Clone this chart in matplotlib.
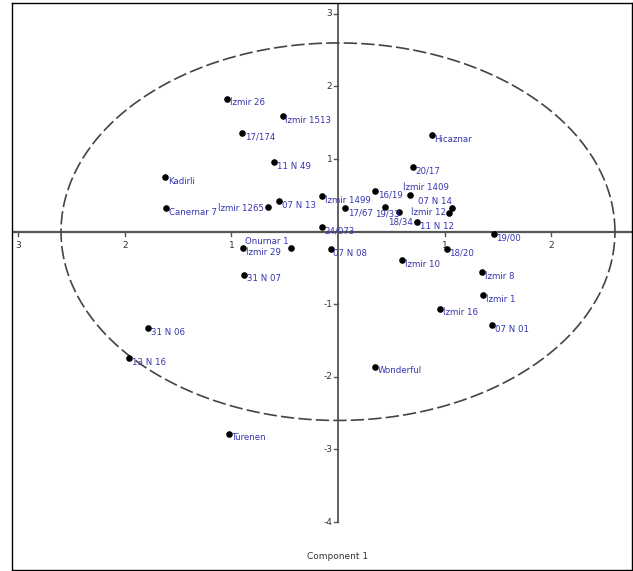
import numpy as np
import matplotlib.pyplot as plt

# component scores for each genotype
names = ["İzmir 26", "İzmir 1513", "17/174", "11 N 49", "Kadirli", "Canernar 7",
         "İzmir 1265", "07 N 13", "İzmir 1499", "17/67", "16/19", "İzmir 1409",
         "20/17", "Hicaznar", "07 N 14", "İzmir 12", "19/33", "18/34", "11 N 12",
         "24/073", "Onurnar 1", "İzmir 29", "31 N 07", "07 N 08", "19/00", "18/20",
         "İzmir 10", "İzmir 8", "İzmir 1", "İzmir 16", "07 N 01", "31 N 06",
         "13 N 16", "Türenen", "Wonderful"]
comp1 = [-1.04, -0.52, -0.90, -0.60, -1.62, -1.61,
         -0.66, -0.55, -0.15, 0.07, 0.35, 0.68,
         0.70, 0.88, 1.07, 1.04, 0.44, 0.57, 0.74,
         -0.15, -0.44, -0.89, -0.88, -0.07, 1.46, 1.02,
         0.60, 1.35, 1.36, 0.96, 1.45, -1.78,
         -1.96, -1.02, 0.35]
comp2 = [1.83, 1.59, 1.36, 0.96, 0.75, 0.32,
         0.34, 0.42, 0.49, 0.32, 0.56, 0.50,
         0.89, 1.33, 0.32, 0.26, 0.34, 0.27, 0.13,
         0.06, -0.23, -0.23, -0.59, -0.24, -0.03, -0.24,
         -0.39, -0.56, -0.87, -1.06, -1.29, -1.33,
         -1.74, -2.78, -1.86]

# label offsets in points (dx, dy, ha) where the default (right of dot) is not used
label_pos = {
    "İzmir 1265": (-3, -1, "right"),
    "Onurnar 1": (-2, 5, "right"),
    "İzmir 1409": (-5, 6, "left"),
    "07 N 14": (0, 5, "right"),
    "İzmir 12": (-2, 0, "right"),
    "19/33": (-7, -5, "left"),
    "18/34": (1, -7, "center"),
}

xticks = [-3, -2, -1, 1, 2]
xtick_labels = ["3", "2", "1", "1", "2"]
yticks = [3, 2, 1, -1, -2, -3, -4]
radius = 2.6

fig = plt.figure(figsize=(6.33, 5.71), dpi=100)
ax = fig.add_axes([12 / 633, 1 / 571, 620 / 633, 567 / 571])
ax.set_xlim(-3.06, 2.76)
ax.set_ylim(-4.66, 3.15)
ax.set_xticks([])
ax.set_yticks([])
for s in ax.spines.values():
    s.set_color("black")
    s.set_linewidth(1.0)

axis_col = "#555555"
ax.axhline(0, color=axis_col, lw=1.6, zorder=1)
ax.plot([0, 0], [-4, 3.15], color=axis_col, lw=1.3, zorder=1)

# tick marks and labels on the crossing axes
for t, lab in zip(xticks, xtick_labels):
    ax.plot([t, t], [0, -0.06], color=axis_col, lw=1.0)
    ax.annotate(lab, (t, 0), xytext=(0, -10), textcoords="offset points",
                ha="center", va="center", fontsize=6.5, color="#333333")
for t in yticks:
    ax.plot([0, -0.04], [t, t], color=axis_col, lw=1.0)
    ax.annotate(str(t), (0, t), xytext=(-4, 0), textcoords="offset points",
                ha="right", va="center", fontsize=6.5, color="#333333")

theta = np.linspace(0, 2 * np.pi, 400)
ax.plot(radius * np.cos(theta), radius * np.sin(theta), color="#444444",
        lw=1.2, ls=(0, (8, 2.5)), zorder=2)

ax.scatter(comp1, comp2, s=14, color="black", zorder=3)
for n, x, y in zip(names, comp1, comp2):
    dx, dy, ha = label_pos.get(n, (2, -3, "left"))
    ax.annotate(n, (x, y), xytext=(dx, dy), textcoords="offset points",
                ha=ha, va="center", fontsize=6.2, color="#3535b0",
                family=["Liberation Sans Narrow", "DejaVu Sans"])

ax.text(0, -4.48, "Component 1", ha="center", va="center", fontsize=6.5,
        color="#333333")

fig.savefig("out.png", dpi=100)
